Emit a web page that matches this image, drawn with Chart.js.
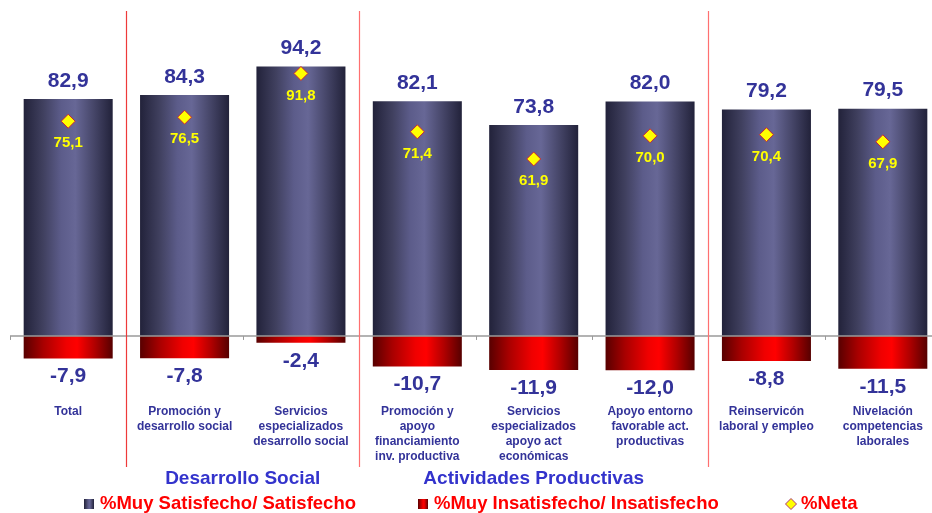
<!DOCTYPE html>
<html><head><meta charset="utf-8">
<script src="https://cdn.jsdelivr.net/npm/chart.js@4.4.0/dist/chart.umd.min.js"></script>
<style>html,body{margin:0;padding:0;background:#fff;overflow:hidden;width:932px;height:513px}#wrap{width:942px;height:513px;position:relative}</style>
</head><body><div id="wrap"><canvas id="c" width="942" height="513" style="width:942px;height:513px;display:block"></canvas></div>
<script>
const categories = [["Total"],["Promoción y","desarrollo social"],["Servicios","especializados","desarrollo social"],["Promoción y","apoyo","financiamiento","inv. productiva"],["Servicios","especializados","apoyo act","económicas"],["Apoyo entorno","favorable act.","productivas"],["Reinservicón","laboral y empleo"],["Nivelación","competencias","laborales"]];
const satisfechos = [82.9, 84.3, 94.2, 82.1, 73.8, 82.0, 79.2, 79.5];
const insatisfechos = [-7.9, -7.8, -2.4, -10.7, -11.9, -12.0, -8.8, -11.5];
const neta = [75.1, 76.5, 91.8, 71.4, 61.9, 70.0, 70.4, 67.9];
const seriesNames = ["%Muy Satisfecho/ Satisfecho", "%Muy Insatisfecho/ Insatisfecho", "%Neta"];
const groupTitles = ["Desarrollo Social", "Actividades Productivas"];
const groupFrom = [1, 3];
const groupTo = [2, 5];
const separatorsAfter = [0, 2, 5];

const FONT = "'Liberation Sans', Arial, sans-serif";
const BAR_PCT = 0.765;
const BLUE_STOPS = [[0,'#22223a'],[0.22,'#40405f'],[0.42,'#5c5c8a'],[0.58,'#676796'],[0.78,'#47476a'],[1,'#22223a']];
const RED_STOPS = [[0,'#580000'],[0.22,'#a80000'],[0.48,'#f00000'],[0.6,'#ff0000'],[0.8,'#b00000'],[1,'#560000']];
const fmt = v => v.toFixed(1).replace('.', ',');

function barGradient(stops) {
  return (ctx) => {
    const chart = ctx.chart;
    const xs = chart.scales.x;
    if (!xs || ctx.dataIndex == null) return stops[3][1];
    const cx = xs.getPixelForValue(ctx.dataIndex);
    const w = xs.width / categories.length * BAR_PCT;
    if (!isFinite(cx) || !isFinite(w) || w <= 0) return stops[3][1];
    const g = chart.ctx.createLinearGradient(cx - w / 2, 0, cx + w / 2, 0);
    stops.forEach(s => g.addColorStop(s[0], s[1]));
    return g;
  };
}

const overlay = {
  id: 'overlay',
  afterDatasetsDraw(chart) {
    const c = chart.ctx, xs = chart.scales.x, ys = chart.scales.y, ca = chart.chartArea;
    const step = xs.width / categories.length;
    const y0 = ys.getPixelForValue(0);
    c.save();
    c.strokeStyle = '#9a9a9a'; c.lineWidth = 1.5;
    c.beginPath(); c.moveTo(ca.left, y0); c.lineTo(chart.width, y0); c.stroke();
    c.lineWidth = 1;
    for (let i = 0; i <= categories.length; i++) {
      const x = Math.round(xs.left + i * step) + 0.5;
      c.beginPath(); c.moveTo(x, y0); c.lineTo(x, y0 + 4); c.stroke();
    }
    separatorsAfter.forEach((k, j) => {
      const x = Math.round(xs.left + (k + 1) * step) + 0.5;
      c.strokeStyle = j === 0 ? '#ee3a3a' : '#ff7070';
      c.lineWidth = 1.2;
      c.beginPath(); c.moveTo(x, 11); c.lineTo(x, 467); c.stroke();
    });
    c.textAlign = 'center'; c.textBaseline = 'middle';
    const m0 = chart.getDatasetMeta(0), m1 = chart.getDatasetMeta(1), m2 = chart.getDatasetMeta(2);
    c.font = 'bold 21px ' + FONT; c.fillStyle = '#333399';
    m0.data.forEach((el, i) => c.fillText(fmt(satisfechos[i]), el.x, el.y - 18));
    m1.data.forEach((el, i) => c.fillText(fmt(insatisfechos[i]), el.x, el.y + 18));
    c.font = 'bold 15px ' + FONT; c.fillStyle = '#ffff00';
    m2.data.forEach((el, i) => c.fillText(fmt(neta[i]), el.x, el.y + 22));
    c.font = 'bold 19px ' + FONT; c.fillStyle = '#3333cc';
    groupTitles.forEach((t, j) => {
      const x = xs.left + (groupFrom[j] + groupTo[j] + 1) / 2 * step;
      c.fillText(t, x, 479);
    });
    const ly = 504;
    c.font = 'bold 18.5px ' + FONT; c.textAlign = 'left';
    const sq = (x, stops) => {
      const g = c.createLinearGradient(x, 0, x + 10, 0);
      stops.forEach(s => g.addColorStop(s[0], s[1]));
      c.fillStyle = g; c.fillRect(x, ly - 5, 10, 10);
    };
    sq(84, BLUE_STOPS);
    c.fillStyle = '#ff0000'; c.fillText(seriesNames[0], 100, ly);
    sq(418, RED_STOPS);
    c.fillStyle = '#ff0000'; c.fillText(seriesNames[1], 434, ly);
    c.beginPath(); c.moveTo(791, ly - 5.5); c.lineTo(796.5, ly); c.lineTo(791, ly + 5.5); c.lineTo(785.5, ly); c.closePath();
    c.fillStyle = '#ffff00'; c.fill(); c.strokeStyle = '#aa3377'; c.lineWidth = 1; c.stroke();
    c.fillStyle = '#ff0000'; c.fillText(seriesNames[2], 801, ly);
    c.restore();
  }
};

new Chart(document.getElementById('c'), {
  data: {
    labels: categories,
    datasets: [
      { type: 'bar', label: seriesNames[0], data: satisfechos, backgroundColor: barGradient(BLUE_STOPS), grouped: false, barPercentage: BAR_PCT, categoryPercentage: 1, borderWidth: 0, order: 2 },
      { type: 'bar', label: seriesNames[1], data: insatisfechos, backgroundColor: barGradient(RED_STOPS), grouped: false, barPercentage: BAR_PCT, categoryPercentage: 1, borderWidth: 0, order: 1 },
      { type: 'line', label: seriesNames[2], data: neta, showLine: false, pointStyle: 'rectRot', pointRadius: 7, pointBackgroundColor: '#ffff00', pointBorderColor: '#cc2233', pointBorderWidth: 1, order: 0 }
    ]
  },
  options: {
    responsive: false,
    animation: false,
    layout: { autoPadding: false, padding: { left: 10, right: 1, top: 20, bottom: 0 } },
    plugins: { legend: { display: false }, tooltip: { enabled: false } },
    scales: {
      x: {
        grid: { display: false, drawTicks: false },
        border: { display: false },
        ticks: { color: '#333399', font: { family: FONT, weight: 'bold', size: 12, lineHeight: 1.25 }, maxRotation: 0, autoSkip: false, padding: 6 },
        afterFit: (s) => { s.height = 115; }
      },
      y: { display: false, min: -21.7, max: 110.5 }
    }
  },
  plugins: [overlay]
});
</script></body></html>
